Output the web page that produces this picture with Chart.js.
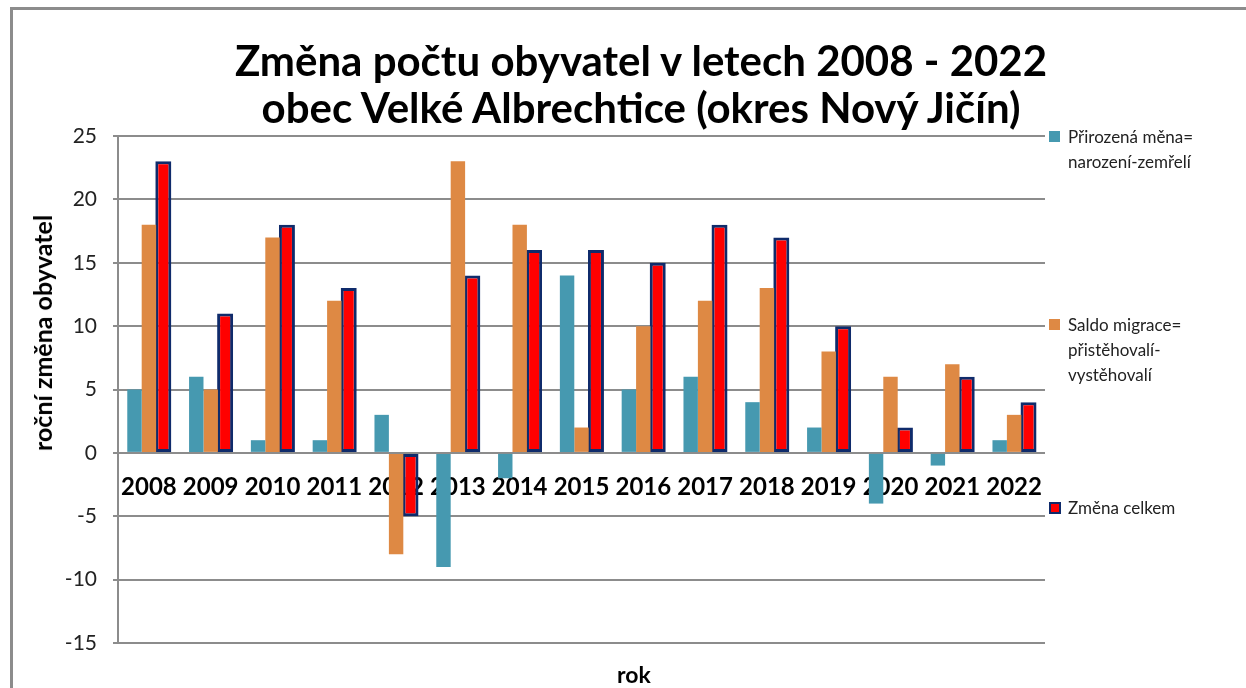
<!DOCTYPE html>
<html>
<head>
<meta charset="utf-8">
<script src="https://cdn.jsdelivr.net/npm/chart.js@4"></script>
<style>
  html, body { margin: 0; padding: 0; background: #fff; }
  #wrap { position: relative; width: 1246px; height: 688px; overflow: hidden; font-family: Lato, "Noto Sans", sans-serif; }
  #frame { position: absolute; left: 10px; top: 7px; width: 1300px; height: 800px; border-top: 3px solid #8c8c8c; border-left: 3px solid #8c8c8c; }
  #cv { position: absolute; left: 0; top: 0; }
  .title { position: absolute; left: 641px; transform: translateX(-50%); white-space: nowrap; font-weight: bold; font-size: 42px; line-height: 50px; color: #000; }
  .ytitle { position: absolute; left: 42px; top: 333px; transform: translate(-50%, -50%) rotate(-90deg); white-space: nowrap; font-weight: bold; font-size: 25px; }
  .xtitle { position: absolute; left: 634px; top: 674px; transform: translate(-50%, -50%); font-weight: bold; font-size: 23px; }
  .leg { position: absolute; left: 1049px; font-size: 17px; line-height: 25px; color: #222; }
  .leg .sw { position: absolute; left: 0; top: 7px; width: 11px; height: 11px; }
  .leg .tx { position: absolute; left: 19px; top: 0; white-space: nowrap; }
</style>
</head>
<body>
<div id="wrap">
  <div id="frame"></div>
  <div id="cvwrap" style="position:absolute;left:0;top:0;width:1246px;height:688px;"><canvas id="cv"></canvas></div>
  <div class="title" style="top:35px;">Změna počtu obyvatel v letech 2008 - 2022</div>
  <div class="title" style="top:82px;">obec Velké Albrechtice (okres Nový Jičín)</div>
  <div class="ytitle">roční změna obyvatel</div>
  <div class="xtitle">rok</div>
  <div class="leg" style="top:124px;"><div class="sw" style="background:#4699B0"></div><div class="tx">Přirozená měna=<br>narození-zemřelí</div></div>
  <div class="leg" style="top:312px;"><div class="sw" style="background:#DE8944"></div><div class="tx">Saldo migrace=<br>přistěhovalí-<br>vystěhovalí</div></div>
  <div class="leg" style="top:495px;"><div class="sw" style="background:#FF0000;border:2px solid #0F2B6B;width:8px;height:8px;"></div><div class="tx">Změna celkem</div></div>
</div>
<script>
const years = ['2008','2009','2010','2011','2012','2013','2014','2015','2016','2017','2018','2019','2020','2021','2022'];
const prirozenaMena = [5, 6, 1, 1, 3, -9, -2, 14, 5, 6, 4, 2, -4, -1, 1];
const saldoMigrace = [18, 5, 17, 12, -8, 23, 18, 2, 10, 12, 13, 8, 6, 7, 3];
const zmenaCelkem = [23, 11, 18, 13, -5, 14, 16, 16, 15, 18, 17, 10, 2, 6, 4];
const yTicks = [-15, -10, -5, 0, 5, 10, 15, 20, 25];

const gridColor = '#8c8c8c';
new Chart(document.getElementById('cv'), {
  type: 'bar',
  data: {
    labels: years,
    datasets: [
      { label: 'Přirozená měna= narození-zemřelí', data: prirozenaMena, backgroundColor: '#4699B0', borderWidth: 0 },
      { label: 'Saldo migrace= přistěhovalí-vystěhovalí', data: saldoMigrace, backgroundColor: '#DE8944', borderWidth: 0 },
      { label: 'Změna celkem', data: zmenaCelkem, backgroundColor: '#FF0000', borderColor: '#0F2B6B', borderWidth: 3, borderSkipped: false, barPercentage: 1.11 }
    ]
  },
  options: {
    responsive: true,
    maintainAspectRatio: false,
    animation: false,
    layout: { padding: { left: 26, top: 136, right: 201, bottom: 45 } },
    plugins: { legend: { display: false }, title: { display: false }, tooltip: { enabled: false } },
    datasets: { bar: { categoryPercentage: 0.7, barPercentage: 1.0 } },
    scales: {
      x: {
        type: 'category',
        position: { y: 0 },
        grid: { display: false, drawTicks: false },
        border: { display: false },
        ticks: { color: '#000', font: { family: 'Lato', weight: 'bold', size: 24 }, padding: 20, maxRotation: 0, autoSkip: false }
      },
      y: {
        min: -15, max: 25,
        afterBuildTicks: s => { s.ticks = yTicks.map(v => ({ value: v })); },
        afterFit: s => { s.width = 92; },
        grid: { color: gridColor, lineWidth: 2, tickLength: 5 },
        border: { display: true, color: gridColor, width: 2 },
        ticks: { color: '#222', font: { family: 'Lato', size: 21 }, padding: 16 }
      }
    }
  }
});
</script>
</body>
</html>
